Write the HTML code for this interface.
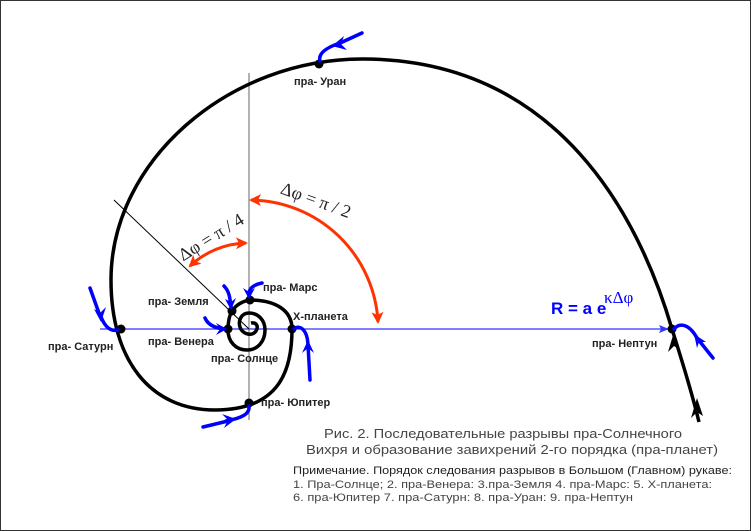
<!DOCTYPE html>
<html><head><meta charset="utf-8"><style>
html,body{margin:0;padding:0;background:#fff}
svg{display:block}
.lb{font-family:"Liberation Sans",sans-serif;font-size:11px;font-weight:bold;fill:#222}
.sn{font-family:"Liberation Sans",sans-serif}
.sf{font-family:"Liberation Serif",serif}
</style></head><body>
<svg width="751" height="531" viewBox="0 0 751 531" xmlns="http://www.w3.org/2000/svg">
<defs>
<marker id="ar" markerWidth="12" markerHeight="12" refX="10" refY="6" orient="auto" markerUnits="userSpaceOnUse"><path d="M0,0 L12,6 L0,12 L3,6z" fill="#ff3300"/></marker>
<marker id="ars" markerWidth="12" markerHeight="12" refX="2" refY="6" orient="auto" markerUnits="userSpaceOnUse"><path d="M12,0 L0,6 L12,12 L9,6z" fill="#ff3300"/></marker>
<marker id="bl" markerWidth="10" markerHeight="10" refX="9" refY="5" orient="auto" markerUnits="userSpaceOnUse"><path d="M0,1 L10,5 L0,9 L2,5z" fill="#3333ff"/></marker>
</defs>
<rect x="0.5" y="0.5" width="750" height="530" fill="#fff" stroke="#333"/>
<line x1="249" y1="73" x2="249" y2="420" stroke="#666" stroke-width="1"/>
<line x1="100" y1="329" x2="668" y2="329" stroke="#3333ff" stroke-width="1.2" marker-end="url(#bl)"/>
<line x1="114" y1="200" x2="249" y2="329" stroke="#000" stroke-width="1"/>
<path d="M699,422 C690,385 680,355 672,329 C640,220 560,60 364,59 C230,58 111,160 111,280 C111,360 150,410 215,410 C280,410 292,370 292,329 C292,310 275,300 250,300 C242,301 235,306 232,311 C229,316 228,322 228,330 C228,342 236,350 247,350 C258,350 265,341 265,330 C265,320 258,313 249,313 C241,313 238,321 240,327 C242,334 252,337 256,331 C259,326 256,322 251,323" fill="none" stroke="#000" stroke-width="3.5"/>
<polygon points="674,332 668,352 674,346 680,350" fill="#000"/>
<polygon points="697,398 691,418 697,412 703,416" fill="#000"/>
<g fill="#000">
<circle cx="319" cy="64" r="4.5"/><circle cx="121" cy="329" r="4.5"/><circle cx="249" cy="403" r="4.5"/>
<circle cx="292" cy="329" r="4.5"/><circle cx="250" cy="300" r="4.5"/><circle cx="232" cy="311" r="4.5"/>
<circle cx="228" cy="329" r="4.5"/><circle cx="672" cy="329" r="4.5"/>
</g>
<path d="M251,200 A129,129 0 0 1 378,322" fill="none" stroke="#ff3300" stroke-width="3" marker-start="url(#ars)" marker-end="url(#ar)"/>
<path d="M246,243 A86,86 0 0 0 190,266" fill="none" stroke="#ff3300" stroke-width="3" marker-start="url(#ars)" marker-end="url(#ar)"/>
<text class="sf" x="316" y="206" font-size="18" text-anchor="middle" transform="rotate(20 316 200)" fill="#222">Δφ = π / 2</text>
<text class="sf" x="211" y="243" font-size="18" text-anchor="middle" transform="rotate(-32 211 237)" fill="#222">Δφ = π / 4</text>
<g fill="none" stroke="#0000ff" stroke-width="3.5" stroke-linecap="round">
<path d="M362,33 L338,44"/><path d="M340,43 C325,48 318,54 320,61"/>
<path d="M90,288 L100,316"/><path d="M100,314 C104,326 110,332 118,330"/>
<path d="M203,427 L228,421"/><path d="M226,421 C242,418 250,414 249,406"/>
<path d="M310,380 L308,345"/><path d="M308,347 C308,330 300,324 294,329"/>
<path d="M713,358 L697,338"/><path d="M698,340 C690,324 680,322 674,329"/>
<path d="M262,283 C252,285 248,290 249,296"/>
<path d="M224,286 C230,292 230,300 231,307"/>
<path d="M205,318 C208,325 215,328 224,329"/>
</g>
<g fill="#0000ff">
<polygon points="332,46 344,36 341,44 347,50"/>
<polygon points="101,322 94,309 100,313 106,307"/>
<polygon points="236,419 222,414 228,420 224,428"/>
<polygon points="308,340 302,353 308,348 314,353"/>
<polygon points="694,334 697,348 699,342 706,342"/>
<polygon points="249,299 243,288 249,292 255,288"/>
<polygon points="231,310 225,299 231,302 236,298"/>
<polygon points="227,329 216,323 220,329 216,335"/>
</g>
<text class="lb" x="294" y="85">пра- Уран</text>
<text class="lb" x="48" y="350">пра- Сатурн</text>
<text class="lb" x="148" y="305">пра- Земля</text>
<text class="lb" x="263" y="291">пра- Марс</text>
<text class="lb" x="293" y="320">Х-планета</text>
<text class="lb" x="148" y="345">пра- Венера</text>
<text class="lb" x="211" y="362">пра- Солнце</text>
<text class="lb" x="261" y="406">пра- Юпитер</text>
<text class="lb" x="592" y="347">пра- Нептун</text>
<text class="sn" x="551" y="314" font-size="17" font-weight="bold" fill="#0000ff">R = a e</text>
<text class="sf" x="604" y="303" font-size="17" fill="#0000ff">κΔφ</text>
<text class="sn" x="503" y="438" font-size="13" text-anchor="middle" fill="#444" textLength="358" lengthAdjust="spacingAndGlyphs">Рис.  2.  Последовательные  разрывы  пра-Солнечного</text>
<text class="sn" x="512" y="454" font-size="13" text-anchor="middle" fill="#444" textLength="412" lengthAdjust="spacingAndGlyphs">Вихря  и  образование  завихрений  2-го  порядка  (пра-планет)</text>
<text class="sn" x="293" y="474" font-size="11" fill="#222" textLength="439" lengthAdjust="spacingAndGlyphs">Примечание. Порядок следования разрывов в Большом (Главном) рукаве:</text>
<text class="sn" x="293" y="488" font-size="11" fill="#444" textLength="419" lengthAdjust="spacingAndGlyphs">1.  Пра-Солнце;  2.  пра-Венера:  3.пра-Земля  4.  пра-Марс:  5.  Х-планета:</text>
<text class="sn" x="293" y="501" font-size="11" fill="#444" textLength="340" lengthAdjust="spacingAndGlyphs">6.  пра-Юпитер  7.  пра-Сатурн:  8.  пра-Уран:  9.  пра-Нептун</text>
</svg>
</body></html>
